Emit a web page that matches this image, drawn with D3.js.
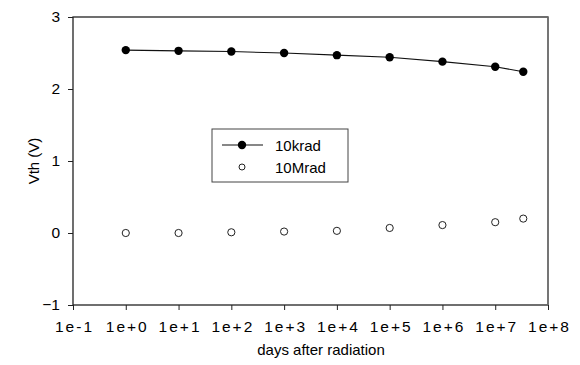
<!DOCTYPE html>
<html><head><meta charset="utf-8">
<script src="https://cdn.jsdelivr.net/npm/d3@7"></script>
<style>body{margin:0;background:#fff}svg{display:block}text{font-family:"Liberation Sans",Arial,sans-serif;fill:#000}</style>
</head><body>
<svg id="c" width="580" height="365"></svg>
<script>
const days = [1, 10, 100, 1000, 10000, 100000, 1000000, 10000000, 34000000];
const vth10krad = [2.54, 2.53, 2.52, 2.50, 2.47, 2.44, 2.38, 2.31, 2.24];
const vth10Mrad = [0.00, 0.00, 0.01, 0.02, 0.03, 0.07, 0.11, 0.15, 0.20];
const xTicks = [1e-1, 1e0, 1e1, 1e2, 1e3, 1e4, 1e5, 1e6, 1e7, 1e8];
const xTickLabels = ["1e-1","1e+0","1e+1","1e+2","1e+3","1e+4","1e+5","1e+6","1e+7","1e+8"];
const yTicks = [-1, 0, 1, 2, 3];
const seriesNames = ["10krad", "10Mrad"];

const svg = d3.select("#c");
const L = 73, R = 548, T = 17, B = 305;
const x = d3.scaleLog().domain([1e-1, 1e8]).range([L, R]);
const y = d3.scaleLinear().domain([-1, 3]).range([B, T]);

// frame
svg.append("rect").attr("x", L).attr("y", T).attr("width", R - L).attr("height", B - T)
  .attr("fill", "none").attr("stroke", "#222").attr("stroke-width", 1.3);
svg.append("line").attr("x1", R).attr("x2", R).attr("y1", T).attr("y2", B)
  .attr("stroke", "#777").attr("stroke-width", 1.5);

// x axis
const xa = svg.append("g").attr("transform", `translate(0,${B})`)
  .call(d3.axisBottom(x).tickValues(xTicks).tickFormat((d, i) => xTickLabels[i]).tickSize(5).tickPadding(8));
xa.select(".domain").remove();
xa.selectAll("line").attr("stroke", "#222");
xa.selectAll("text").attr("font-size", 15.5).style("letter-spacing", "2px").attr("dx", "1px")
  .attr("font-family", "Liberation Sans, Arial, sans-serif").attr("y", 15.5).attr("dy", "0.71em").attr("fill", "#000");

// y axis
const ya = svg.append("g").attr("transform", `translate(${L},0)`)
  .call(d3.axisLeft(y).tickValues(yTicks).tickFormat(d3.format("d")).tickSize(5).tickPadding(8));
ya.select(".domain").remove();
ya.selectAll("line").attr("stroke", "#222");
ya.selectAll("text").attr("font-size", 15.5).attr("font-family", "Liberation Sans, Arial, sans-serif").attr("fill", "#000");

// labels
svg.append("text").attr("x", 321).attr("y", 355).attr("text-anchor", "middle")
  .attr("font-size", 15).text("days after radiation");
svg.append("text").attr("transform", "translate(39,161) rotate(-90)").attr("text-anchor", "middle")
  .attr("font-size", 15).text("Vth (V)");

// series 10krad
const line = d3.line().x((d, i) => x(days[i])).y(d => y(d));
svg.append("path").datum(vth10krad).attr("d", line).attr("fill", "none")
  .attr("stroke", "#111").attr("stroke-width", 1.1);
svg.selectAll(".k").data(vth10krad).enter().append("circle")
  .attr("cx", (d, i) => x(days[i])).attr("cy", d => y(d)).attr("r", 4.2).attr("fill", "#000");

// series 10Mrad
svg.selectAll(".m").data(vth10Mrad).enter().append("circle")
  .attr("cx", (d, i) => x(days[i])).attr("cy", d => y(d)).attr("r", 3.6)
  .attr("fill", "#fff").attr("stroke", "#222").attr("stroke-width", 1);

// legend
const lg = svg.append("g");
lg.append("rect").attr("x", 212).attr("y", 129).attr("width", 136).attr("height", 53)
  .attr("fill", "#fff").attr("stroke", "#444").attr("stroke-width", 1);
lg.append("line").attr("x1", 222).attr("x2", 263).attr("y1", 145).attr("y2", 145)
  .attr("stroke", "#111").attr("stroke-width", 1.1);
lg.append("circle").attr("cx", 242).attr("cy", 145).attr("r", 4.2).attr("fill", "#000");
lg.append("circle").attr("cx", 242).attr("cy", 167).attr("r", 3).attr("fill", "#fff")
  .attr("stroke", "#222").attr("stroke-width", 1);
lg.append("text").attr("x", 275).attr("y", 150.5).attr("font-size", 15).text(seriesNames[0]);
lg.append("text").attr("x", 275).attr("y", 172.5).attr("font-size", 15).text(seriesNames[1]);
</script>
</body></html>
